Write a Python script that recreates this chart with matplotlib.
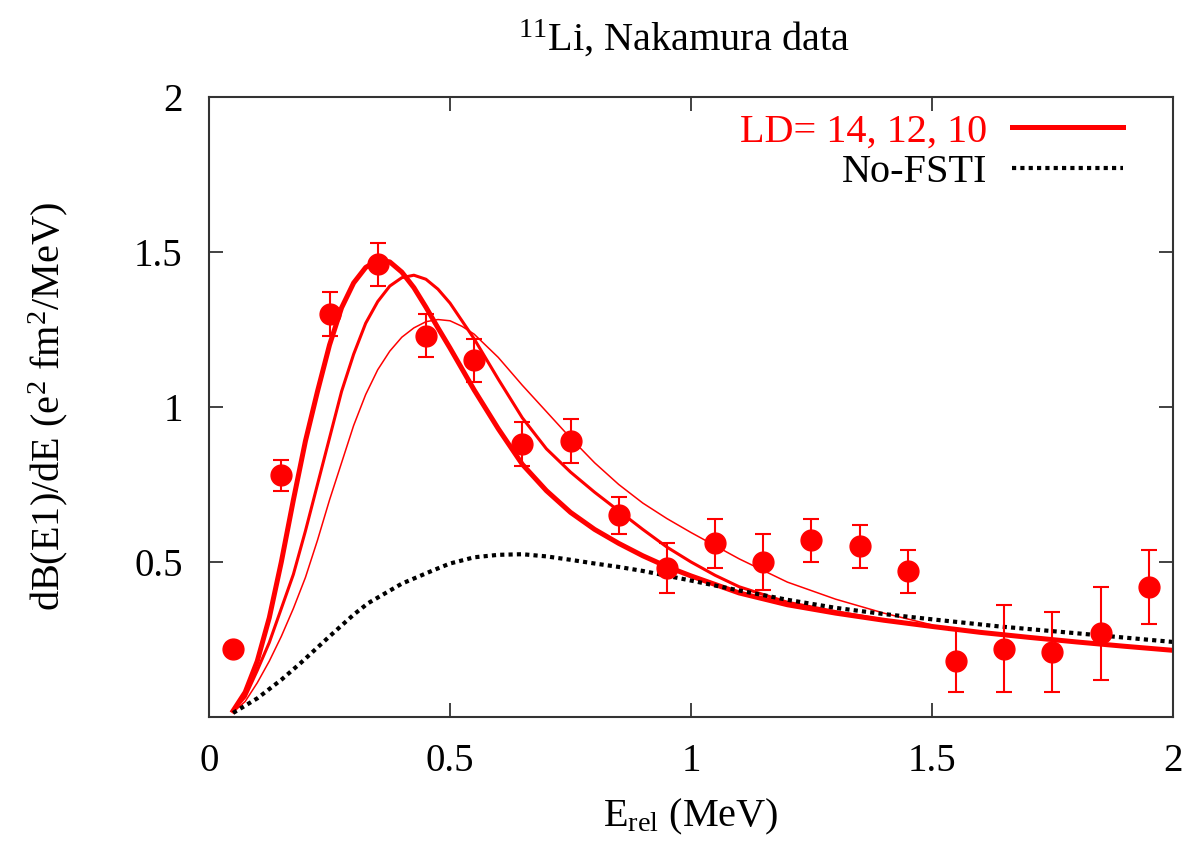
import matplotlib
matplotlib.use("Agg")
import matplotlib.pyplot as plt

plt.rcParams['font.family'] = ['Liberation Serif', 'DejaVu Serif']
plt.rcParams['mathtext.fontset'] = 'custom'
plt.rcParams['mathtext.rm'] = 'Liberation Serif'
plt.rcParams['mathtext.it'] = 'Liberation Serif:italic'

# Nakamura data points
e_data = [0.05, 0.15, 0.25, 0.35, 0.45, 0.55, 0.65, 0.75, 0.85, 0.95,
          1.05, 1.15, 1.25, 1.35, 1.45, 1.55, 1.65, 1.75, 1.85, 1.95]
b_data = [0.22, 0.78, 1.30, 1.46, 1.23, 1.15, 0.88, 0.89, 0.65, 0.48,
          0.56, 0.50, 0.57, 0.55, 0.47, 0.18, 0.22, 0.21, 0.27, 0.42]
b_err = [0.02, 0.05, 0.07, 0.07, 0.07, 0.07, 0.07, 0.07, 0.06, 0.08,
         0.08, 0.09, 0.07, 0.07, 0.07, 0.10, 0.14, 0.13, 0.15, 0.12]

# LD = 14
e14 = [0.05, 0.075, 0.10, 0.125, 0.15, 0.175, 0.20, 0.225, 0.25, 0.275, 0.30,
       0.325, 0.35, 0.375, 0.40, 0.425, 0.45, 0.475, 0.50, 0.55, 0.60, 0.65,
       0.70, 0.75, 0.80, 0.85, 0.90, 0.95, 1.0, 1.1, 1.2, 1.3, 1.4, 1.5,
       1.6, 1.7, 1.8, 1.9, 2.0]
b14 = [0.02, 0.08, 0.18, 0.32, 0.50, 0.70, 0.89, 1.05, 1.20, 1.32, 1.40,
       1.45, 1.473, 1.468, 1.435, 1.385, 1.322, 1.255, 1.19, 1.055, 0.93, 0.815,
       0.73, 0.66, 0.605, 0.56, 0.52, 0.485, 0.455, 0.40, 0.362, 0.335, 0.312, 0.292,
       0.273, 0.257, 0.242, 0.228, 0.215]

# LD = 12
e12 = [0.05, 0.075, 0.10, 0.125, 0.15, 0.175, 0.20, 0.225, 0.25, 0.275, 0.30,
       0.325, 0.35, 0.375, 0.40, 0.425, 0.45, 0.475, 0.50, 0.55, 0.60, 0.65, 0.70,
       0.75, 0.80, 0.85, 0.90, 0.95, 1.0, 1.05, 1.1, 1.2, 1.3, 1.4, 1.5]
b12 = [0.02, 0.065, 0.15, 0.24, 0.35, 0.46, 0.60, 0.75, 0.90, 1.05, 1.17,
       1.27, 1.34, 1.39, 1.417, 1.425, 1.412, 1.38, 1.335, 1.22, 1.09, 0.965, 0.865,
       0.79, 0.725, 0.665, 0.605, 0.548, 0.50, 0.457, 0.42, 0.37, 0.34, 0.313, 0.292]

# LD = 10
e10 = [0.05, 0.075, 0.10, 0.125, 0.15, 0.175, 0.20, 0.225, 0.25, 0.275, 0.30,
       0.325, 0.35, 0.375, 0.40, 0.425, 0.45, 0.475, 0.50, 0.525, 0.55, 0.60,
       0.65, 0.70, 0.75, 0.80, 0.85, 0.90, 0.95, 1.0, 1.1, 1.2, 1.3, 1.4, 1.5]
b10 = [0.015, 0.05, 0.11, 0.18, 0.26, 0.35, 0.45, 0.57, 0.70, 0.82, 0.94,
       1.04, 1.12, 1.18, 1.225, 1.255, 1.275, 1.282, 1.278, 1.26, 1.235, 1.16,
       1.07, 0.985, 0.90, 0.82, 0.75, 0.69, 0.64, 0.595, 0.51, 0.435, 0.38,
       0.335, 0.297]

# no final-state interaction
e_nf = [0.05, 0.10, 0.15, 0.19, 0.25, 0.30, 0.33, 0.40, 0.465, 0.50, 0.55,
        0.60, 0.65, 0.70, 0.75, 0.80, 0.85, 0.90, 1.0, 1.1, 1.2, 1.3, 1.4,
        1.5, 1.64, 1.8, 2.0]
b_nf = [0.013, 0.06, 0.12, 0.174, 0.26, 0.33, 0.367, 0.43, 0.473, 0.495, 0.515,
        0.523, 0.525, 0.518, 0.507, 0.495, 0.484, 0.471, 0.44, 0.408, 0.378, 0.352, 0.332,
        0.315, 0.292, 0.27, 0.242]

fig = plt.figure(figsize=(11.83, 8.43), dpi=100)
ax = fig.add_axes([0.1767, 0.1495, 0.8148, 0.7355])

red = '#ff0000'
ax.plot(e14, b14, color=red, lw=3.6, label='LD= 14, 12, 10')
ax.plot(e12, b12, color=red, lw=2.2)
ax.plot(e10, b10, color=red, lw=1.1)
ax.plot(e_nf, b_nf, color='black', lw=3.0, linestyle=(0, (1, 1)), label='No-FSTI')
ax.errorbar(e_data, b_data, yerr=b_err, fmt='o', color=red, ms=15,
            elinewidth=1.5, capsize=6, capthick=1.5)

ax.set_xlim(0, 2)
ax.set_ylim(0, 2)
ax.set_xticks([0, 0.5, 1, 1.5, 2])
ax.set_xticklabels(['0', '0.5', '1', '1.5', '2'])
ax.set_yticks([0.5, 1, 1.5, 2])
ax.set_yticklabels(['0.5', '1', '1.5', '2'])
ax.tick_params(direction='in', length=10, width=1.3, top=True, right=True,
               labelsize=28, color='#333333')
ax.tick_params(axis='x', pad=19)
ax.tick_params(axis='y', pad=19)
for s in ax.spines.values():
    s.set_linewidth(1.5)
    s.set_color('#333333')

ax.set_xlabel(r'E$_{\mathrm{rel}}$ (MeV)', fontsize=29, labelpad=12)
ax.set_ylabel(r'dB(E1)/dE (e$^{2}$ fm$^{2}$/MeV)', fontsize=29, labelpad=46)
ax.set_title(r'$^{11}$Li, Nakamura data', fontsize=29, pad=33, x=0.493)

leg = ax.legend(loc='upper right', bbox_to_anchor=(0.948, 0.974),
                frameon=False, markerfirst=False, fontsize=29,
                handlelength=2.75, borderaxespad=0, borderpad=0,
                labelspacing=0.1, handletextpad=0.62)
leg.get_texts()[0].set_color(red)

fig.savefig('out.png', dpi=100)
